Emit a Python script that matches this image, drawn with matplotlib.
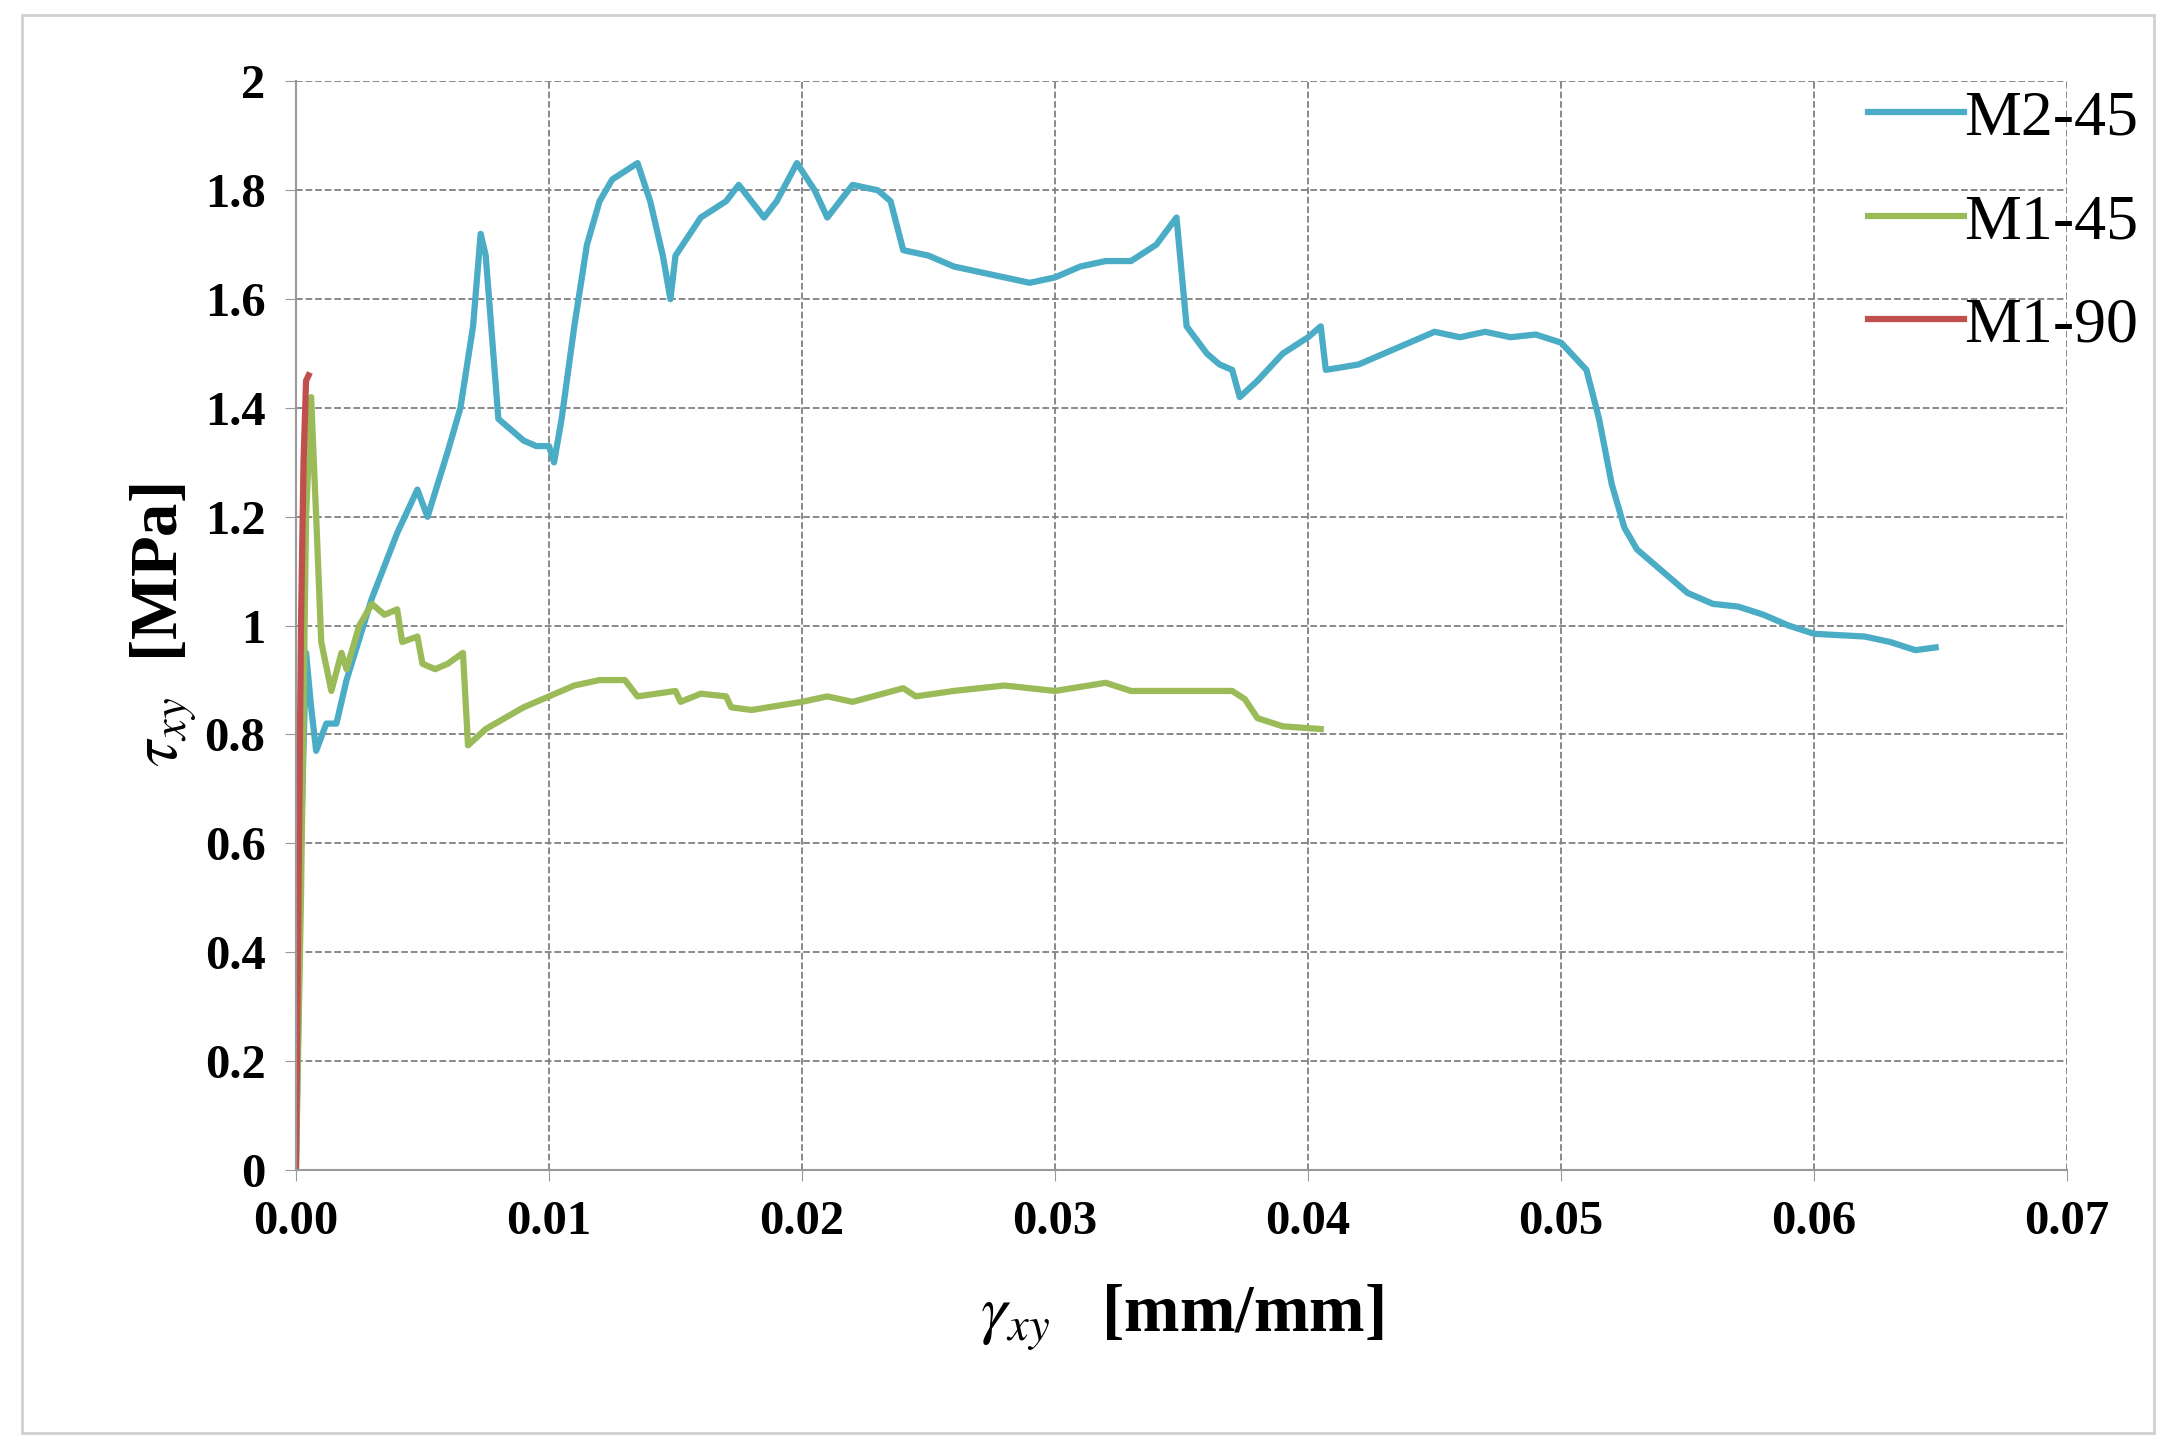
import matplotlib.pyplot as plt
from matplotlib.ticker import FuncFormatter

plt.rcParams['font.family'] = ['Liberation Serif', 'DejaVu Serif']
plt.rcParams['mathtext.fontset'] = 'stix'

m2_x = [0, 0.0002, 0.0004, 0.0006, 0.0008, 0.0012, 0.0016, 0.002, 0.003, 0.004, 0.0048, 0.0052, 0.006, 0.0065,
        0.007, 0.0073, 0.0075, 0.0078, 0.008, 0.009, 0.0095, 0.0100, 0.0102, 0.0105, 0.011, 0.0115, 0.012, 0.0125,
        0.0135, 0.014, 0.0145, 0.0148, 0.015, 0.016, 0.017, 0.0175, 0.018, 0.0185, 0.019, 0.0198, 0.0205, 0.021,
        0.022, 0.023, 0.0235, 0.024, 0.025, 0.026, 0.027, 0.028, 0.029, 0.030, 0.031, 0.032, 0.033, 0.034, 0.0348,
        0.035, 0.0352, 0.036, 0.0365, 0.037, 0.0373, 0.038, 0.039, 0.040, 0.0405, 0.0407, 0.042, 0.043, 0.044,
        0.045, 0.046, 0.047, 0.048, 0.049, 0.050, 0.051, 0.0515, 0.052, 0.0525, 0.053, 0.054, 0.055, 0.056, 0.057,
        0.058, 0.059, 0.060, 0.062, 0.063, 0.064, 0.0648]
m2_y = [0, 0.6, 0.95, 0.85, 0.77, 0.82, 0.82, 0.9, 1.05, 1.17, 1.25, 1.2, 1.32, 1.4,
        1.55, 1.72, 1.68, 1.5, 1.38, 1.34, 1.33, 1.33, 1.30, 1.38, 1.55, 1.70, 1.78, 1.82,
        1.85, 1.78, 1.68, 1.60, 1.68, 1.75, 1.78, 1.81, 1.78, 1.75, 1.78, 1.85, 1.8, 1.75,
        1.81, 1.80, 1.78, 1.69, 1.68, 1.66, 1.65, 1.64, 1.63, 1.64, 1.66, 1.67, 1.67, 1.70, 1.75,
        1.65, 1.55, 1.50, 1.48, 1.47, 1.42, 1.45, 1.50, 1.53, 1.55, 1.47, 1.48, 1.50, 1.52,
        1.54, 1.53, 1.54, 1.53, 1.535, 1.52, 1.47, 1.38, 1.26, 1.18, 1.14, 1.10, 1.06, 1.04, 1.035,
        1.02, 1.00, 0.985, 0.98, 0.97, 0.955, 0.96]

m1_45_x = [0, 0.0002, 0.0004, 0.0006, 0.0008, 0.001, 0.0014, 0.0018, 0.002, 0.0025, 0.003, 0.0035, 0.004, 0.0042,
           0.0048, 0.005, 0.0055, 0.006, 0.0066, 0.0068, 0.0075, 0.009, 0.011, 0.012, 0.013, 0.0135, 0.015, 0.0152,
           0.016, 0.017, 0.0172, 0.018, 0.020, 0.021, 0.022, 0.024, 0.0245, 0.026, 0.028, 0.030, 0.032, 0.033,
           0.035, 0.037, 0.0375, 0.038, 0.039, 0.0405]
m1_45_y = [0, 0.5, 1.2, 1.42, 1.2, 0.97, 0.88, 0.95, 0.92, 1.0, 1.04, 1.02, 1.03, 0.97,
           0.98, 0.93, 0.92, 0.93, 0.95, 0.78, 0.81, 0.85, 0.89, 0.90, 0.90, 0.87, 0.88, 0.86,
           0.875, 0.87, 0.85, 0.845, 0.86, 0.87, 0.86, 0.885, 0.87, 0.88, 0.89, 0.88, 0.895, 0.88,
           0.88, 0.88, 0.865, 0.83, 0.815, 0.81]

m1_90_x = [0, 0.0001, 0.0002, 0.0003, 0.0004, 0.0005]
m1_90_y = [0, 0.5, 1.0, 1.3, 1.45, 1.46]

fig = plt.figure(figsize=(21.76, 14.55), dpi=100)
ax = fig.add_axes([0.136, 0.196, 0.814, 0.748])
fig.patches.append(plt.Rectangle((0.01, 0.015), 0.98, 0.975, transform=fig.transFigure,
                                 fill=False, edgecolor='#d0d0d0', lw=2))

ax.plot(m2_x, m2_y, c='#4bacc6', lw=4.5, label='M2-45')
ax.plot(m1_45_x, m1_45_y, c='#9bbb59', lw=4.5, label='M1-45')
ax.plot(m1_90_x, m1_90_y, c='#c0504d', lw=4.5, label='M1-90')

ax.set_xlim(0, 0.07)
ax.set_ylim(0, 2)
ax.set_xticks([i * 0.01 for i in range(8)])
ax.set_yticks([i * 0.2 for i in range(11)])
ax.xaxis.set_major_formatter(FuncFormatter(lambda v, p: f'{v:.2f}'))
ax.yaxis.set_major_formatter(FuncFormatter(lambda v, p: f'{v:.1f}'.rstrip('0').rstrip('.') if v else '0'))
ax.grid(color='gray', linestyle='--', linewidth=1.3)
ax.spines['top'].set_visible(False)
ax.spines['right'].set_visible(False)
ax.spines['left'].set_color('#999999')
ax.spines['bottom'].set_color('#999999')
ax.spines['left'].set_linewidth(1.5)
ax.spines['bottom'].set_linewidth(1.5)
ax.tick_params(length=8, color='#999999', labelsize=35, pad=14)
for t in ax.get_xticklabels() + ax.get_yticklabels():
    t.set_fontweight('bold')

ax.set_xlabel(r'$\gamma_{xy}$   [mm/mm]', fontsize=48, fontweight='bold', labelpad=28)
ax.set_ylabel(r'$\tau_{xy}$  [MPa]', fontsize=48, fontweight='bold', labelpad=4)

ax.legend(loc='upper left', bbox_to_anchor=(0.855, 1.045), frameon=False, fontsize=46,
          handlelength=1.5, handletextpad=0.0, labelspacing=0.7)

fig.savefig('out.png')
